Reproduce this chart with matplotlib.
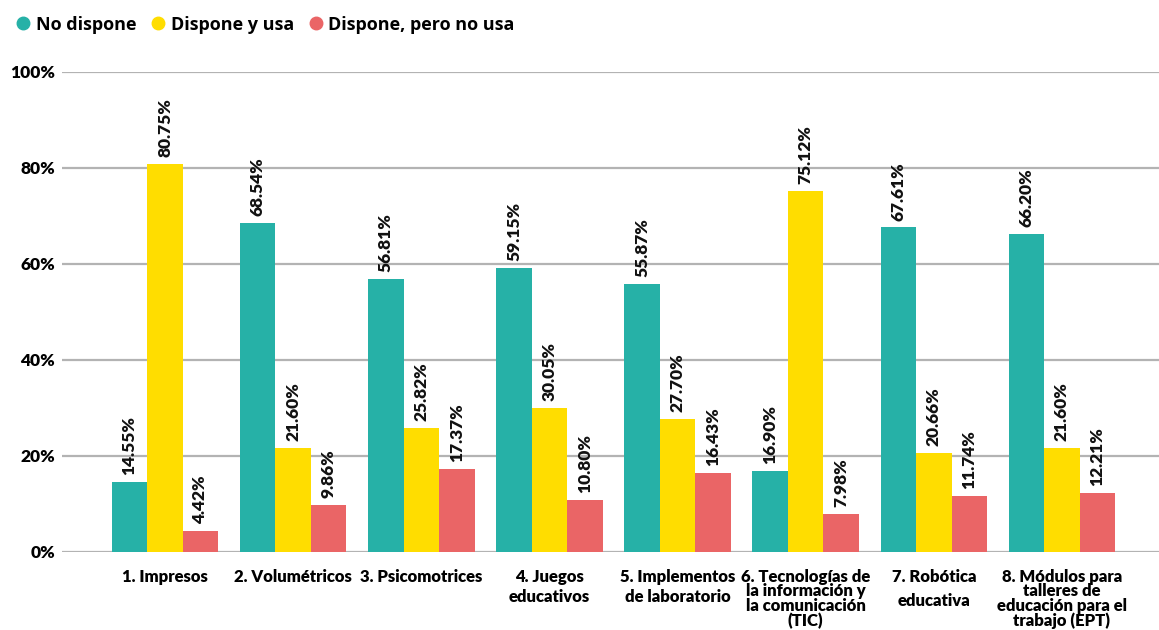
import matplotlib
matplotlib.use("Agg")
import matplotlib.pyplot as plt
from matplotlib.lines import Line2D
import numpy as np

categories = [
    "1. Impresos",
    "2. Volumétricos",
    "3. Psicomotrices",
    "4. Juegos\neducativos",
    "5. Implementos\nde laboratorio",
    "6. Tecnologías de\nla información y\nla comunicación\n(TIC)",
    "7. Robótica\neducativa",
    "8. Módulos para\ntalleres de\neducación para el\ntrabajo (EPT)",
]
series_names = ["No dispone", "Dispone y usa", "Dispone, pero no usa"]
no_dispone = [14.55, 68.54, 56.81, 59.15, 55.87, 16.90, 67.61, 66.20]
dispone_usa = [80.75, 21.60, 25.82, 30.05, 27.70, 75.12, 20.66, 21.60]
dispone_no_usa = [4.42, 9.86, 17.37, 10.80, 16.43, 7.98, 11.74, 12.21]
yticks = [0, 20, 40, 60, 80, 100]

colors = ["#26B1A7", "#FFDD00", "#EA6566"]
FONT = "Lato"
WEIGHT = "heavy"

fig = plt.figure(figsize=(11.59, 6.30), dpi=100)
W, H = 1159, 630
ax = fig.add_axes([62 / W, 1 - 552 / H, (1159 - 62) / W, (552 - 72) / H])

x = np.arange(len(categories))
bw = 0.277
all_series = [no_dispone, dispone_usa, dispone_no_usa]
for k, (vals, c) in enumerate(zip(all_series, colors)):
    pos = x + (k - 1) * bw
    ax.bar(pos, vals, width=bw, color=c, zorder=3)
    for xp, v in zip(pos, vals):
        ax.annotate(f"{v:.2f}%", (xp, v), xytext=(0, 5), textcoords="offset points",
                    rotation=90, ha="center", va="bottom", fontsize=12.5,
                    fontweight=WEIGHT, family=FONT, color="#111111", zorder=4)

ax.set_ylim(0, 100)
ax.set_xlim(-0.804, 7.757)
ax.set_yticks(yticks)
ax.set_yticklabels([f"{t}%" for t in yticks], fontsize=12.5, fontweight=WEIGHT, family=FONT)
ax.yaxis.grid(True, color="#B3B3B3", linewidth=1.6, zorder=0)
ax.set_axisbelow(True)
for s in ax.spines.values():
    s.set_visible(False)
ax.tick_params(axis="y", length=0, pad=5)
ax.tick_params(axis="x", length=0, pad=12)
ax.set_xticks(x)
ax.set_xticklabels(categories, fontsize=12, fontweight=WEIGHT, family=FONT)
spacings = [1.0, 1.0, 1.0, 1.3, 1.3, 0.9, 1.65, 0.9]
for lbl, sp in zip(ax.get_xticklabels(), spacings):
    lbl.set_linespacing(sp)
    lbl.set_verticalalignment("top")

handles = [Line2D([0], [0], marker="o", linestyle="none", markersize=9,
                  markerfacecolor=c, markeredgecolor=c) for c in colors]
fig.legend(handles, series_names, loc="upper left", bbox_to_anchor=(0.0, 0.995),
           ncol=3, frameon=False, handletextpad=0.1, columnspacing=0.6,
           handlelength=1.2, borderaxespad=0.3,
           prop={"family": "Open Sans", "weight": "bold", "size": 13})

fig.savefig("out.png", dpi=100)
